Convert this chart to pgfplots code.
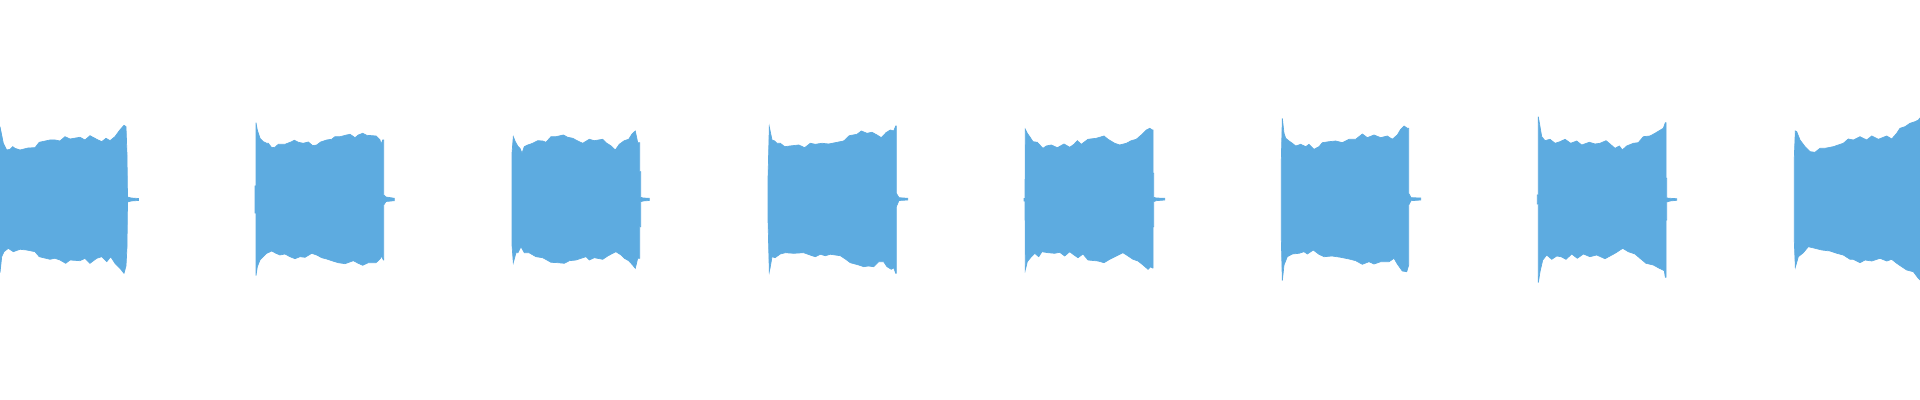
\documentclass[border=0pt]{standalone}
\usepackage{pgfplots}
\pgfplotsset{compat=1.18}
\definecolor{wave}{RGB}{93,171,224}

\begin{document}
\begin{tikzpicture}
  \begin{axis}[
      scale only axis,
      width=19.2cm, height=4cm,
      xmin=0, xmax=1920,
      ymin=0, ymax=400,
      y dir=reverse,
      hide axis,
      clip=true,
    ]
    \path (rel axis cs:0,0) rectangle (rel axis cs:1,1);
    % envelopes of the eight bursts, x and y in pixels of the 1920x400 frame
    \addplot[fill=wave, draw=wave, line width=0.2pt] coordinates {
      (0,126.7) (1,131.7) (3.3,143.3) (6.7,150) (10,149.3) (12.7,146.7) (15,148.3) (20,150) (28,148) (35,147.7) (39.3,142.3) (50,140) (55,140) (60,141) (65,136.7) (70,139) (80,137.3) (85,140) (90,135.7) (96.7,139.3) (101.7,141.7) (106,138.3) (110,140.7) (115,136.7) (119.3,130.7) (124,125.3) (126,126.7) (127,155) (127.5,197) (131,198) (138.5,198.5)
      (138.5,200.5) (131,201) (127.5,202) (127,246.7) (126,266) (124,273.3) (120,268.3) (115,263.3) (110.7,256.7) (106.7,261.7) (101.7,256.7) (96.7,258.3) (90,263.3) (85,258.3) (80,260.7) (70,260) (65.7,263.3) (60,260) (55,258.3) (50,259.3) (39.3,256.7) (35,251.7) (26.7,250) (20,249.3) (13.3,251.7) (8.3,248.3) (4,251.7) (1.7,256.7) (0,272.7)
    } -- cycle;
    \addplot[fill=wave, draw=wave, line width=0.2pt] coordinates {
      (255,186) (256,186) (256,122.7) (257.3,130) (260,138.3) (263.3,141.7) (266.7,143.3) (268.3,143.3) (271.7,147.7) (275,147.3) (278.3,144.3) (285,144.3) (291.7,141.7) (294.3,140.3) (298.3,142.3) (303.3,143.3) (308.3,142) (312.7,145.7) (316.7,145) (320.7,142) (326.7,140) (331.7,139.3) (335,136.7) (340,136.7) (346.7,135) (350,134.3) (355,137.7) (358.3,135) (362.7,133.3) (366.7,135.3) (376,136) (380,140) (381,144.3) (382.7,140) (383.7,140) (383.7,195) (386,197) (394.3,198.3)
      (394.3,200.7) (386,201.5) (383.7,205) (383.7,260) (383.3,260) (381.7,256) (380,259) (376,262.7) (368.3,262.7) (362.7,265.3) (358.3,263.3) (353.3,260.7) (345,263.7) (338.3,262.7) (331.7,260.7) (326.7,259) (321.7,257.7) (316.7,255) (311.7,253.3) (305,257.3) (300,256.7) (295,258.7) (290,256.7) (285,254) (280,255) (276,253.3) (271.7,251) (266.7,253.3) (263.3,256.7) (260,260) (257.3,266.7) (256,275.7) (256,213) (255,213)
    } -- cycle;
    \addplot[fill=wave, draw=wave, line width=0.2pt] coordinates {
      (512,245) (512,153.3) (513.3,136.7) (515.3,141.7) (517.7,146) (520,148.3) (522,153.3) (524.3,146.7) (527.7,145) (532.7,143.3) (537.7,140.7) (542.7,141) (546,142.3) (551,136.7) (556,136.7) (563.3,135) (567.7,137.3) (572.7,138.3) (577.7,141) (582.7,143.3) (589.3,139.3) (594.3,140.7) (602.7,139.3) (606,142.7) (611,146) (615.3,150) (619.3,144.3) (624.3,140.7) (628.7,139.3) (632,134) (635.3,131) (637.7,142.7) (639.7,142.7) (639.7,171.7) (640.7,171.7) (640.7,197.3) (643,198) (649.3,198.3)
      (649.3,200.5) (643,201) (640.7,201.7) (640.7,226.7) (639.7,226.7) (639.7,258.3) (637.7,258.3) (635.3,268.3) (632,264.3) (628.7,260.7) (624.3,258.3) (621,255) (616,251.7) (612.7,253.3) (607.7,256) (602.7,259.3) (594.3,257.7) (589.3,260) (586,256.7) (581,258.3) (576,260) (569.3,260.7) (564.3,263.3) (558,262.7) (551,262.3) (542.7,257.7) (536,256.7) (529,252.7) (524.3,252.7) (521,246.7) (518,252.7) (516,252.7) (513.3,262.7)
    } -- cycle;
    \addplot[fill=wave, draw=wave, line width=0.2pt] coordinates {
      (768,219.3) (768,179.3) (769.3,126.7) (770.3,131.7) (772,140) (774.7,141) (777,143.3) (780.3,143.3) (784.7,146.7) (790,146) (798.7,145) (804.7,147.7) (810.3,143.3) (815.3,144.3) (822,143.3) (828.7,144) (835.3,142.7) (843.7,141) (849.3,135.7) (857,134.3) (861.3,131) (867,133.3) (872,132.3) (877,135) (881.3,137.7) (886,132.7) (890.3,130) (893.7,131) (895.7,126) (896.3,126) (896.3,193.3) (899,197.7) (907.7,198.3)
      (907.7,200) (899,200.5) (896.3,206.7) (896.3,273.3) (895.7,273.3) (893.7,267.7) (891.3,269.3) (887,266.7) (883.7,261.7) (878.7,261.7) (873.7,266.7) (868.3,266) (863.7,266.7) (858.7,265) (850.3,262.7) (845.3,259) (840.3,255.7) (830.3,254.3) (825.3,255.7) (820.3,254.3) (815.3,256.7) (812,255.7) (803.7,252.7) (793.7,253.3) (785.3,252.7) (780.3,254) (775,257.7) (772,256.7) (770.3,266.7) (769.3,271.7)
    } -- cycle;
    \addplot[fill=wave, draw=wave, line width=0.2pt] coordinates {
      (1024,201) (1024,198.5) (1025,198.5) (1025.3,129.3) (1027.3,133.3) (1029.7,136.7) (1033,141.7) (1037.3,142.3) (1040.7,146) (1043,148.3) (1046.3,146) (1051.3,145) (1057.3,147.7) (1064,144) (1069.7,147.3) (1074,144.3) (1077.3,140.7) (1081.3,144.3) (1088,139.3) (1096.3,138.3) (1104,136) (1108,139.3) (1114.7,143.3) (1119.7,145) (1126.3,143.3) (1131.3,140.7) (1136.3,139.3) (1141.3,135) (1146.3,130) (1149.7,128.3) (1152.3,130) (1153,130) (1153,173.3) (1153.7,173.3) (1153.7,197.3) (1156,198) (1164.7,198.3)
      (1164.7,200) (1156,200.7) (1153.7,201.7) (1153.7,226.7) (1153,226.7) (1153,268) (1152.3,268) (1150.7,266.7) (1148,269.3) (1143,265) (1138,261) (1133,259.3) (1128,256) (1123,252.7) (1116.3,256) (1109.7,259.3) (1104,262.7) (1098,261) (1088,260) (1083,254) (1078,257.7) (1074,255) (1069.7,251.7) (1064.7,256) (1059.7,252.3) (1054.7,253.3) (1048,252.7) (1042,251.7) (1038.7,256.7) (1034.7,253.3) (1031.3,256.7) (1027.3,261.7) (1025.3,270) (1025,201)
    } -- cycle;
    \addplot[fill=wave, draw=wave, line width=0.2pt] coordinates {
      (1281.3,239.3) (1281.3,160) (1282.3,118.3) (1284,133.3) (1285.7,138.3) (1289,141) (1292.3,143.3) (1295.7,146) (1300.7,144.3) (1305.7,146.7) (1309,144.3) (1314,149.3) (1319,146.7) (1322.3,142.7) (1329,141.7) (1335.7,141) (1342.3,142.7) (1349,139.3) (1355.7,139.3) (1362.3,134) (1367.3,137.7) (1374,135) (1380.7,137.7) (1387.3,136) (1392.3,139.3) (1397.3,135) (1400.7,129.3) (1404,126) (1407.3,128.3) (1408.7,128.3) (1408.7,193.3) (1411,197.7) (1420.7,198)
      (1420.7,200) (1411,200.7) (1408.7,205) (1408.7,265) (1406.7,271.7) (1402.3,271) (1397.3,264) (1394,258.3) (1389,261.7) (1380.7,261.7) (1374,264) (1369,261.7) (1362.3,264.3) (1355.7,260.7) (1349,259) (1340.7,257.3) (1332,256) (1324,256.7) (1319,254.3) (1313.3,250) (1307.3,254) (1304,251.7) (1299,253.3) (1292.3,254) (1287.3,256.7) (1284,265) (1282.3,280.7)
    } -- cycle;
    \addplot[fill=wave, draw=wave, line width=0.2pt] coordinates {
      (1537.3,204) (1537.3,195) (1538.3,195) (1538.3,116.7) (1540,126.7) (1541.7,136.7) (1545,140.7) (1550,139.3) (1555,143.3) (1560,141.7) (1565,139.3) (1570.7,143.3) (1576.7,141) (1581.7,145) (1589.3,142.3) (1595,144) (1600,143.3) (1606,140.7) (1610,144) (1615,148.3) (1619.3,146) (1622.3,150) (1626.7,146) (1633.3,143.3) (1638.3,142.7) (1643.3,136.7) (1650,136) (1655,133.3) (1659.3,130.7) (1663.3,128.3) (1665.3,122.7) (1666,122.7) (1666,178.3) (1666.7,178.3) (1666.7,198) (1670,198.3) (1676.7,198.7)
      (1676.7,200.3) (1670,201) (1666.7,202) (1666.7,220) (1666,220) (1666,277.3) (1665.3,277.3) (1664.3,270.7) (1659.3,268.3) (1653.3,265) (1646,263.3) (1640,258.3) (1635,254) (1628.3,251.7) (1622.7,248.3) (1615,253.3) (1610,256) (1605,258.7) (1596.7,255) (1590,256.7) (1583.3,254) (1577.3,258.3) (1571.7,254) (1566,259.3) (1561,256.7) (1556.7,256) (1551.7,259.3) (1546.7,255) (1542.7,260) (1540,271.7) (1538.3,282.7) (1538.3,204)
    } -- cycle;
    \addplot[fill=wave, draw=wave, line width=0.2pt] coordinates {
      (1794.3,241.7) (1794.3,157.3) (1795.3,131) (1796.7,131.7) (1800,140) (1805,146.7) (1810,151.7) (1815,152.3) (1820,148.3) (1825,148.3) (1833.3,146.7) (1843.3,143.3) (1848.3,139) (1853.3,140) (1860,136.7) (1866.7,140) (1871.7,136) (1878.3,139.3) (1886.7,136) (1891.7,139) (1896.7,133.3) (1900,128.3) (1905,126.7) (1910,123.3) (1915,121.7) (1918.3,120) (1920,118)
      (1920,280) (1918.3,278.3) (1913.3,271.7) (1906.7,270) (1901.7,266.7) (1896.7,263.3) (1891.7,259.3) (1886.7,261) (1880,258.3) (1871.7,261) (1865,260) (1860,262.7) (1853.3,259.3) (1850,259.3) (1843.3,255) (1836.7,253.3) (1830,251) (1821.7,250) (1815,248.3) (1808.3,246.7) (1803.3,252.7) (1798.3,256.7) (1795.3,267.3)
    } -- cycle;
  \end{axis}
\end{tikzpicture}
\end{document}
